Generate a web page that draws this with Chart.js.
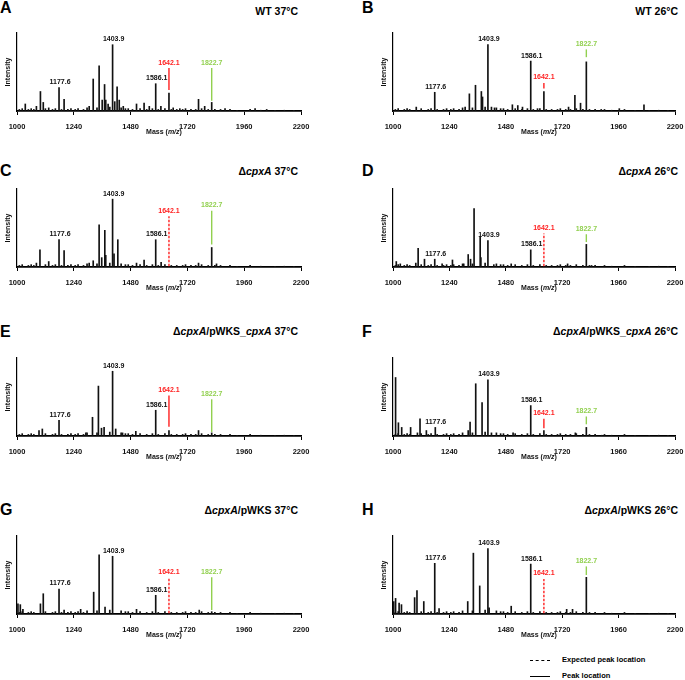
<!DOCTYPE html>
<html>
<head>
<meta charset="utf-8">
<script src="https://cdn.jsdelivr.net/npm/chart.js@4.4.1/dist/chart.umd.min.js"></script>
<style>
  body { margin: 0; background: #fff; }
  #wrap { position: relative; width: 685px; height: 680px; font-family: "Liberation Sans", Arial, sans-serif; color: #000; }
  #wrap canvas { position: absolute; }
  .letter { position: absolute; font-weight: bold; font-size: 16px; line-height: 16px; }
  .title { position: absolute; font-weight: bold; font-size: 10.5px; line-height: 12px; text-align: right; white-space: nowrap; }
  .leg { position: absolute; font-weight: bold; font-size: 7.5px; line-height: 10px; white-space: nowrap; }
  .leg span { display: inline-block; width: 20px; vertical-align: middle; margin-right: 12px; }
</style>
</head>
<body>
<div id="wrap">
  <div class="leg" style="left:530px;top:655px"><span style="border-top:1.2px dashed #000"></span>Expected peak location</div>
  <div class="leg" style="left:530px;top:671px"><span style="border-top:1.2px solid #000"></span>Peak location</div>
</div>
<script>
var xTicks = [1000, 1240, 1480, 1720, 1960, 2200];
var peakLabels = ['1177.6', '1403.9', '1586.1'];
var labelMass = [1177.6, 1403.9, 1586.1];
var redMass = 1642.1;
var greenMass = 1822.7;

// small baseline peaks seen in every trace
var grassMz = [1010, 1022, 1048, 1060, 1071, 1120, 1150, 1162, 1188, 1215, 1228, 1246, 1258, 1281, 1296, 1338, 1392, 1440, 1458, 1470, 1488, 1520, 1548, 1572, 1597, 1625, 1652, 1675, 1700, 1712, 1735, 1755, 1780, 1808, 1836, 1860, 1900, 1930, 1985, 2030, 2090, 2130, 2170];
var grassInt = [2, 3, 2, 3, 2, 3, 2, 3, 2, 2, 3, 2, 3, 2, 4, 4, 5, 4, 3, 3, 2, 3, 2, 3, 2, 3, 2, 2, 2, 3, 2, 2, 3, 2, 2, 2, 2, 1, 2, 1, 1, 1, 1];

// A  WT 37°C
var mzA = [1035, 1082, 1099, 1111, 1134, 1177.6, 1199, 1305, 1322, 1347, 1360, 1370, 1375, 1385, 1403.9, 1413, 1423, 1432, 1449, 1505, 1537, 1559, 1586.1, 1608, 1642.1, 1660, 1688, 1767, 1793, 1822.7, 1879, 2006, 2055];
var intA = [9, 6, 25, 11, 4, 30, 15, 6, 41, 58, 14, 34, 14, 9, 85, 12, 31, 14, 6, 9, 10, 6, 35, 6, 23, 4, 3, 15, 6, 11, 3, 3, 2];
var redA = [27, 55];
var greenA = [13, 55];

// B  WT 26°C
var mzB = [1099, 1177.6, 1307, 1325, 1351, 1376, 1381, 1403.9, 1419, 1432, 1508, 1531, 1551, 1586.1, 1615, 1642.1, 1747, 1774, 1798, 1822.7, 1886, 1963, 2068];
var intB = [5, 24, 5, 22, 33, 25, 18, 85, 5, 4, 8, 7, 5, 64, 3, 25, 5, 20, 10, 63, 2, 3, 8];
var redB = [29, 36];
var greenB = [69, 79];

// C  cpxA 37°C
var mzC = [1082, 1097, 1134, 1177.6, 1199, 1305, 1322, 1347, 1358, 1371, 1375, 1403.9, 1410, 1426, 1505, 1537, 1586.1, 1609, 1767, 1822.7, 1843];
var intC = [5, 22, 7, 35, 21, 5, 8, 54, 12, 47, 15, 87, 17, 35, 5, 9, 35, 6, 5, 25, 4];
var redC = [1, 65];
var greenC = [29, 72];

// D  cpxA 26°C
var mzD = [1014, 1031, 1097, 1107, 1134, 1177.6, 1209, 1253, 1301, 1320, 1330, 1345, 1371, 1374, 1403.9, 1429, 1503, 1586.1, 1743, 1822.7, 1845];
var intD = [7, 4, 5, 24, 10, 10, 4, 9, 4, 16, 10, 75, 39, 12, 34, 3, 4, 22, 4, 29, 2];
var redD = [1, 43];
var greenD = [32, 42];

// E  cpxA/pWKS_cpxA 37°C
var mzE = [1093, 1107, 1177.6, 1291, 1319, 1344, 1357, 1368, 1403.9, 1417, 1446, 1502, 1586.1, 1642.1, 1767, 1822.7];
var intE = [7, 9, 20, 4, 24, 64, 10, 11, 83, 9, 4, 6, 33, 7, 7, 4];
var redE = [12, 52];
var greenE = [5, 47];

// F  cpxA/pWKS_cpxA 26°C
var mzF = [1011, 1023, 1037, 1075, 1104, 1115, 1142, 1180, 1320, 1328, 1352, 1379, 1403.9, 1419, 1511, 1586.1, 1642.1, 1776, 1822.7, 1888];
var intF = [75, 17, 11, 11, 4, 22, 7, 11, 7, 18, 67, 43, 72, 4, 4, 39, 7, 4, 11, 1];
var redF = [10, 22];
var greenF = [15, 25];

// G  cpxA/pWKS 37°C
var mzG = [1004, 1014, 1025, 1099, 1111, 1177.6, 1199, 1269, 1324, 1347, 1372, 1403.9, 1505, 1586.1, 1770, 1822.7];
var intG = [13, 12, 6, 13, 26, 32, 5, 6, 28, 76, 9, 74, 6, 24, 5, 3];
var redG = [1, 47];
var greenG = [5, 47];

// H  cpxA/pWKS 26°C
var mzH = [1003, 1011, 1026, 1036, 1092, 1102, 1131, 1177.6, 1196, 1318, 1342, 1369, 1403.9, 1409, 1503, 1586.1, 1739, 1764, 1822.7];
var intH = [16, 20, 14, 12, 21, 30, 16, 65, 7, 16, 78, 36, 84, 8, 10, 64, 6, 6, 47];
var redH = [1, 45];
var greenH = [50, 61];

var RED = '#ff1f1f';
var GREEN = '#92d050';
var FONT = '"Liberation Sans", Arial, sans-serif';

var panels = [
  { letter: 'A', col: 0, row: 0, title: 'WT 37°C', mz: mzA, int: intA, red: redA, green: greenA, redDash: false },
  { letter: 'B', col: 1, row: 0, title: 'WT 26°C', mz: mzB, int: intB, red: redB, green: greenB, redDash: false },
  { letter: 'C', col: 0, row: 1, title: 'Δ<i>cpxA</i> 37°C', mz: mzC, int: intC, red: redC, green: greenC, redDash: true },
  { letter: 'D', col: 1, row: 1, title: 'Δ<i>cpxA</i> 26°C', mz: mzD, int: intD, red: redD, green: greenD, redDash: true },
  { letter: 'E', col: 0, row: 2, title: 'Δ<i>cpxA</i>/pWKS_<i>cpxA</i> 37°C', mz: mzE, int: intE, red: redE, green: greenE, redDash: false },
  { letter: 'F', col: 1, row: 2, title: 'Δ<i>cpxA</i>/pWKS_<i>cpxA</i> 26°C', mz: mzF, int: intF, red: redF, green: greenF, redDash: false },
  { letter: 'G', col: 0, row: 3, title: 'Δ<i>cpxA</i>/pWKS 37°C', mz: mzG, int: intG, red: redG, green: greenG, redDash: true },
  { letter: 'H', col: 1, row: 3, title: 'Δ<i>cpxA</i>/pWKS 26°C', mz: mzH, int: intH, red: redH, green: greenH, redDash: true }
];

// layout of the grid (page pixels)
var plotTops = [33, 189, 358, 536];
var letterTops = [0, 163, 324, 502];
var titleTops = [5, 165, 325, 504];
var plotLefts = [17, 393];
var plotWidths = [284, 282];
var titleRights = [298, 678];
var PLOT_H = 78, YW = 17, XH = 28, PAD_TOP = 4, PAD_RIGHT = 9;

Chart.defaults.font.family = FONT;
Chart.defaults.color = '#000';

// tallest peak near a labelled mass
function peakTop(mz, int, m) {
  var top = 0;
  for (var i = 0; i < mz.length; i++) {
    if (Math.abs(mz[i] - m) <= 6 && int[i] > top) top = int[i];
  }
  return top;
}

var labelsPlugin = {
  id: 'peakLabels',
  afterDatasetsDraw: function (chart) {
    var p = chart.options.plugins.peakLabels;
    var ctx = chart.ctx, xs = chart.scales.x, ys = chart.scales.y;
    ctx.save();
    ctx.font = 'bold 7px ' + FONT;
    ctx.textAlign = 'center';
    ctx.textBaseline = 'bottom';
    ctx.fillStyle = '#111';
    for (var i = 0; i < labelMass.length; i++) {
      var top = peakTop(p.mz, p.int, labelMass[i]);
      ctx.fillText(peakLabels[i], xs.getPixelForValue(labelMass[i]) + 1, ys.getPixelForValue(top) - 2);
    }
    ctx.fillStyle = RED;
    ctx.fillText(redMass.toFixed(1), xs.getPixelForValue(redMass), ys.getPixelForValue(p.red[1]) - 2);
    ctx.fillStyle = GREEN;
    ctx.fillText(greenMass.toFixed(1), xs.getPixelForValue(greenMass), ys.getPixelForValue(p.green[1]) - 2);

    // x axis title with italic m/z
    var parts = [['Mass (', 'bold'], ['m/z', 'italic bold'], [')', 'bold']];
    var fs = 7, total = 0;
    parts.forEach(function (pt) { ctx.font = pt[1] + ' ' + fs + 'px ' + FONT; total += ctx.measureText(pt[0]).width; });
    var x = (chart.chartArea.left + chart.chartArea.right) / 2 + 5 - total / 2;
    var y = chart.chartArea.bottom + 21;
    ctx.textAlign = 'left';
    ctx.textBaseline = 'middle';
    ctx.fillStyle = '#111';
    parts.forEach(function (pt) {
      ctx.font = pt[1] + ' ' + fs + 'px ' + FONT;
      ctx.fillText(pt[0], x, y);
      x += ctx.measureText(pt[0]).width;
    });
    ctx.restore();
  }
};

function markerSet(values, mass, color, dashed) {
  return {
    type: 'line',
    data: [{ x: mass, y: values[0] }, { x: mass, y: values[1] }],
    borderColor: color,
    borderWidth: 1.4,
    borderDash: dashed ? [2.5, 1.5] : [],
    pointRadius: 0,
    fill: false
  };
}

function drawPanel(p) {
  var wrap = document.getElementById('wrap');
  var plotTop = plotTops[p.row], plotLeft = plotLefts[p.col], plotW = plotWidths[p.col];

  var letter = document.createElement('div');
  letter.className = 'letter';
  letter.style.left = (p.col ? 362 : 0) + 'px';
  letter.style.top = letterTops[p.row] + 'px';
  letter.textContent = p.letter;
  wrap.appendChild(letter);

  var title = document.createElement('div');
  title.className = 'title';
  title.style.left = (p.col ? 340 : 0) + 'px';
  title.style.width = (titleRights[p.col] - (p.col ? 340 : 0)) + 'px';
  title.style.top = titleTops[p.row] + 'px';
  title.innerHTML = p.title;
  wrap.appendChild(title);

  var canvas = document.createElement('canvas');
  var w = YW + plotW + PAD_RIGHT, h = PAD_TOP + PLOT_H + XH;
  canvas.width = w;
  canvas.height = h;
  canvas.style.left = (plotLeft - YW) + 'px';
  canvas.style.top = (plotTop - PAD_TOP) + 'px';
  canvas.style.width = w + 'px';
  canvas.style.height = h + 'px';
  wrap.appendChild(canvas);

  var spectrum = p.mz.map(function (m, i) { return { x: m, y: p.int[i] }; });
  var grass = grassMz.map(function (m, i) { return { x: m, y: grassInt[i] }; });

  new Chart(canvas.getContext('2d'), {
    type: 'bar',
    data: {
      datasets: [
        {
          type: 'bar',
          data: spectrum.concat(grass),
          backgroundColor: '#111',
          borderWidth: 0,
          barThickness: 1
        },
        markerSet(p.red, redMass, RED, p.redDash),
        markerSet(p.green, greenMass, GREEN, false)
      ]
    },
    options: {
      responsive: false,
      animation: false,
      devicePixelRatio: 1,
      layout: { padding: { top: PAD_TOP, right: PAD_RIGHT, left: 0, bottom: 0 } },
      plugins: {
        legend: { display: false },
        tooltip: { enabled: false },
        peakLabels: { mz: p.mz, int: p.int, red: p.red, green: p.green }
      },
      scales: {
        x: {
          type: 'linear',
          min: 1000,
          max: 2200,
          offset: false,
          afterBuildTicks: function (s) { s.ticks = xTicks.map(function (v) { return { value: v }; }); },
          afterFit: function (s) { s.height = XH; s.paddingLeft = 0; s.paddingRight = 0; },
          ticks: {
            font: { size: 7.5, weight: 'bold' }, color: '#111', padding: 7, maxRotation: 0, autoSkip: false,
            callback: function (v) { return String(v); }
          },
          grid: { drawOnChartArea: false, drawTicks: true, tickLength: 4, color: '#000', lineWidth: 1, offset: false },
          border: { display: true, color: '#000', width: 1.8 }
        },
        y: {
          min: 0,
          max: 100,
          afterFit: function (s) { s.width = YW; s.paddingTop = 0; s.paddingBottom = 0; },
          ticks: { display: false },
          grid: { display: false },
          border: { display: true, color: '#000', width: 1.2 },
          title: { display: true, text: 'Intensity', font: { size: 7, weight: 'bold' }, color: '#111', padding: { top: 4, bottom: 2 } }
        }
      }
    },
    plugins: [labelsPlugin]
  });
}

panels.forEach(drawPanel);
</script>
</body>
</html>
